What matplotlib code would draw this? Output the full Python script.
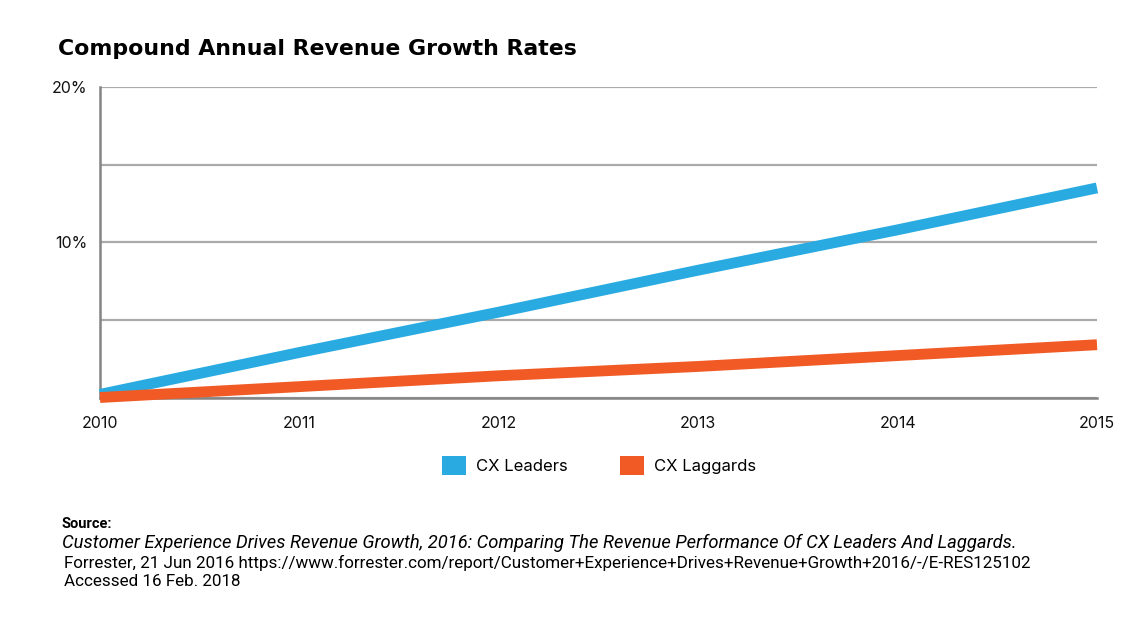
import matplotlib
matplotlib.use("Agg")
import matplotlib.pyplot as plt
from matplotlib.patches import Patch

years = [2010, 2011, 2012, 2013, 2014, 2015]
cx_leaders = [0.2, 2.9, 5.5, 8.2, 10.8, 13.5]
cx_laggards = [0.0, 0.7, 1.4, 2.0, 2.7, 3.4]
series_names = ["CX Leaders", "CX Laggards"]
colors = ["#29ABE2", "#F15A24"]
y_ticks = [0, 5, 10, 15, 20]
y_labels = ["", "", "10%", "", "20%"]

W, H = 1126, 630
fig = plt.figure(figsize=(W / 100, H / 100), dpi=100)
ax = fig.add_axes([100 / W, 1 - 397.5 / H, (1097 - 100) / W, (397.5 - 87) / H])

ax.plot(years, cx_leaders, color=colors[0], lw=7.8, solid_capstyle="butt", clip_on=False, zorder=3)
ax.plot(years, cx_laggards, color=colors[1], lw=7.8, solid_capstyle="butt", clip_on=False, zorder=3)

ax.set_xlim(2010, 2015)
ax.set_ylim(0, 20)
ax.set_yticks(y_ticks)
ax.set_yticklabels(y_labels)
ax.set_xticks(years)
ax.set_xticklabels([str(y) for y in years])
ax.yaxis.grid(True, color="#aaaaaa", lw=1.6)
ax.set_axisbelow(True)
for s in ["top", "right"]:
    ax.spines[s].set_visible(False)
for s in ["left", "bottom"]:
    ax.spines[s].set_color("#848484")
    ax.spines[s].set_linewidth(1.8)
ax.tick_params(axis="both", length=0, labelsize=11.5, labelcolor="#111111")
ax.tick_params(axis="x", pad=13)
ax.tick_params(axis="y", pad=9)
for lab in ax.get_xticklabels() + ax.get_yticklabels():
    lab.set_fontfamily("Inter")
for lab in ax.get_yticklabels():
    lab.set_verticalalignment("center_baseline")

fig.text(58 / W, 1 - 49 / H, "Compound Annual Revenue Growth Rates", fontsize=15.8,
         fontweight="bold", family="DejaVu Sans", va="center", ha="left", color="#000000")

handles = [Patch(facecolor=colors[0], edgecolor="none"), Patch(facecolor=colors[1], edgecolor="none")]
fig.legend(handles, series_names, loc="center left", bbox_to_anchor=(442 / W, 1 - 465.5 / H), ncol=2,
           frameon=False, borderpad=0, borderaxespad=0, handlelength=1.45, handleheight=1.45,
           handletextpad=0.6, columnspacing=3.12, prop={"family": "Inter", "size": 12})

src_font = ["Roboto", "DejaVu Sans"]
fig.text(62 / W, 1 - 524 / H, "Source:", fontsize=10.5, fontweight="bold", family=src_font, va="center")
fig.text(62 / W, 1 - 543 / H,
         "Customer Experience Drives Revenue Growth, 2016: Comparing The Revenue Performance Of CX Leaders And Laggards.",
         fontsize=13.27, style="italic", family=src_font, va="center")
fig.text(64 / W, 1 - 563 / H,
         "Forrester, 21 Jun 2016 https://www.forrester.com/report/Customer+Experience+Drives+Revenue+Growth+2016/-/E-RES125102",
         fontsize=12.23, family=src_font, va="center")
fig.text(64 / W, 1 - 582 / H, "Accessed 16 Feb. 2018", fontsize=12.23, family=src_font, va="center")

fig.savefig("out.png", dpi=100)
